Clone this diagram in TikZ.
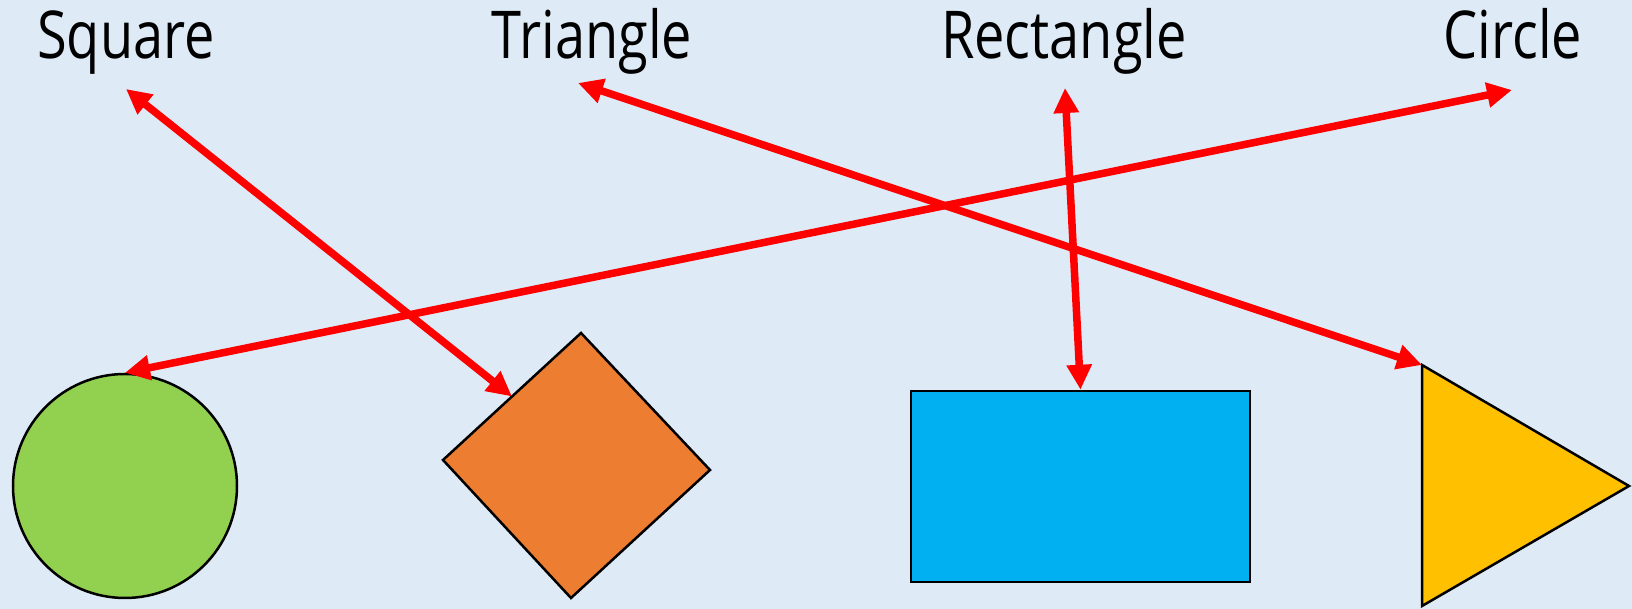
\documentclass[tikz,border=0pt]{standalone}
\usepackage{fontspec}
\newfontfamily\lblfont[FakeStretch=0.82]{Open Sans}
\usetikzlibrary{arrows.meta}
\definecolor{bgblue}{HTML}{DEEBF7}
\definecolor{shgreen}{HTML}{92D050}
\definecolor{shorange}{HTML}{ED7D31}
\definecolor{shblue}{HTML}{00B0F0}
\definecolor{shyellow}{HTML}{FFC000}
\begin{document}
\begin{tikzpicture}[x=1pt,y=1pt,
  lbl/.style={anchor=base,inner sep=0pt,font=\lblfont\fontsize{66}{72}\selectfont},
  figshape/.style={draw=black,line width=2.5pt,line join=miter},
  link/.style={draw=red,line width=7.5pt,{Triangle[length=25pt,width=24pt]}-{Triangle[length=25pt,width=24pt]}}]
\fill[bgblue] (0,0) rectangle (1632,609);
\useasboundingbox (0,0) rectangle (1632,609);
% labels
\node[lbl] (lsq) at (126,550) {Square};
\node[lbl] (ltri) at (592,550) {Triangle};
\node[lbl] (lrect) at (1064,550) {Rectangle};
\node[lbl] (lcirc) at (1513,550) {Circle};
% arrow ends under labels
\coordinate (sqtip) at (126,520);
\coordinate (tritip) at (578,526);
\coordinate (recttip) at (1065,521);
\coordinate (circtip) at (1512,519);
% shapes
\node[figshape,circle,fill=shgreen,minimum size=224pt,inner sep=0pt] (circ) at (125,123) {};
\draw[figshape,fill=shorange] (581,276) -- (710,139) -- (571,11) -- (443,149) -- cycle;
\coordinate (diaedge) at (512,212.5);
\node[figshape,rectangle,fill=shblue,minimum width=339pt,minimum height=191pt,inner sep=0pt] (rect) at (1080.5,122.5) {};
\draw[figshape,fill=shyellow] (1422,244) -- (1629,123) -- (1422,3) -- cycle;
\coordinate (tritop) at (1422,244);
% connectors
\draw[link] (sqtip) -- (diaedge);
\draw[link] (tritip) -- (tritop);
\draw[link] (recttip) -- (rect.north);
\draw[link] (circtip) -- (circ.north);
\end{tikzpicture}
\end{document}
